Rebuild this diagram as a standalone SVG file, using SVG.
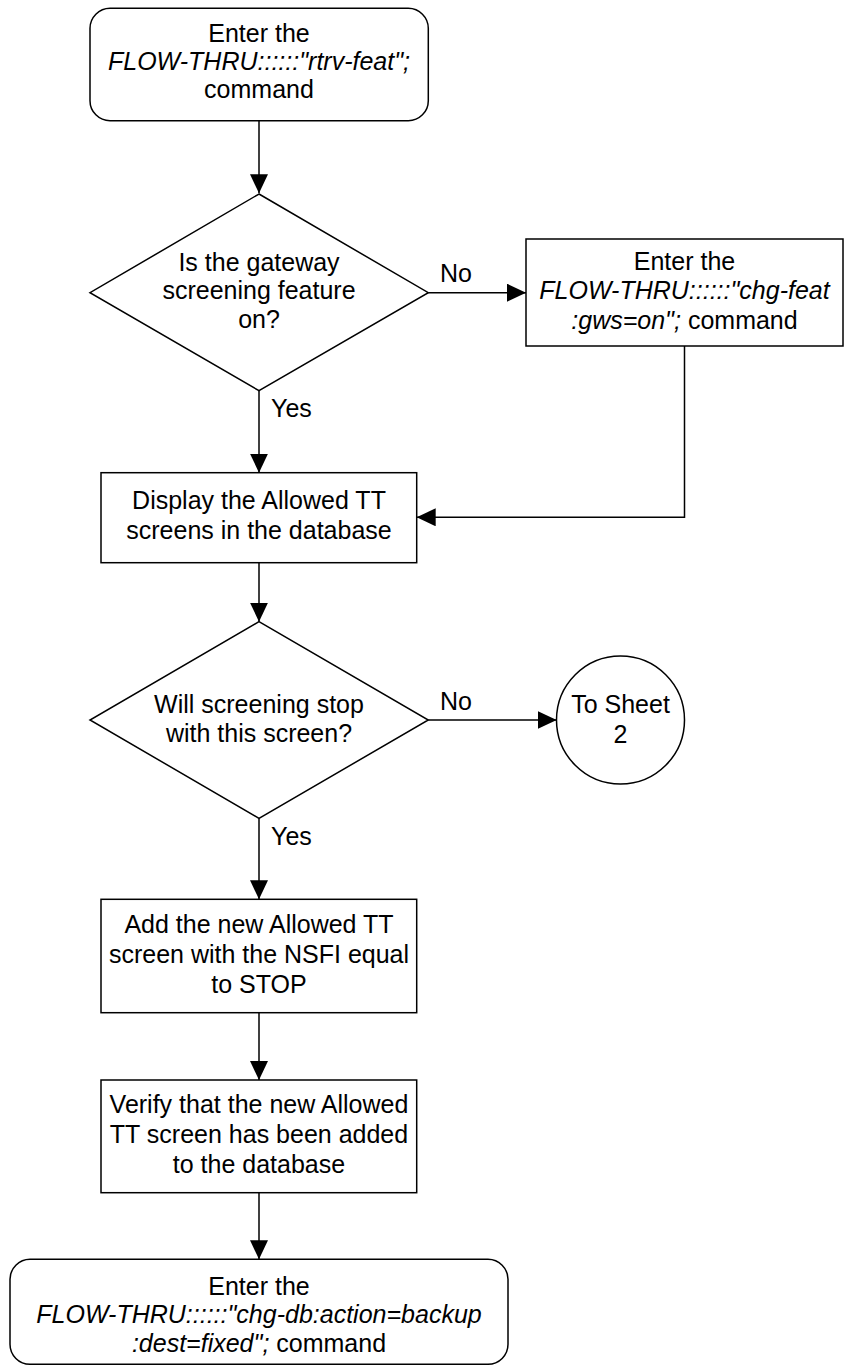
<svg xmlns="http://www.w3.org/2000/svg" width="848" height="1370" viewBox="0 0 848 1370">
<style>
.s{fill:#fff;stroke:#000;stroke-width:1.5}
.c{fill:none;stroke:#000;stroke-width:1.5}
text{font-family:"Liberation Sans",Arial,sans-serif;font-size:25px;fill:#000}
.m{text-anchor:middle}
.i{font-style:italic}
</style>
<defs>
<marker id="ah" markerUnits="userSpaceOnUse" markerWidth="20" markerHeight="20" refX="19" refY="9" orient="auto">
<path d="M0,0 L19,9 L0,18 z" fill="#000"/>
</marker>
</defs>
<rect width="848" height="1370" fill="#fff"/>
<g id="connectors">
<path class="c" d="M259,120.7 V193.3" marker-end="url(#ah)"/>
<path class="c" d="M428.3,292.7 H526" marker-end="url(#ah)"/>
<path class="c" d="M259,390.7 V472.7" marker-end="url(#ah)"/>
<path class="c" d="M684.5,346 V517.3 H416.7" marker-end="url(#ah)"/>
<path class="c" d="M259,562.7 V621.7" marker-end="url(#ah)"/>
<path class="c" d="M428.3,720 H556.7" marker-end="url(#ah)"/>
<path class="c" d="M259,818.3 V899.3" marker-end="url(#ah)"/>
<path class="c" d="M259,1012.7 V1080" marker-end="url(#ah)"/>
<path class="c" d="M259,1192.7 V1259.3" marker-end="url(#ah)"/>
<text x="440" y="282">No</text>
<text x="271" y="417">Yes</text>
<text x="440" y="709.5">No</text>
<text x="271" y="845">Yes</text>
</g>
<g id="start">
<rect class="s" x="90" y="8.3" width="338.3" height="112.4" rx="20"/>
<text class="m" x="259" y="42.3">Enter the</text>
<text class="m i" x="259" y="70">FLOW-THRU::::::"rtrv-feat";</text>
<text class="m" x="259" y="98.3">command</text>
</g>
<g id="dec1">
<polygon class="s" points="259,194 428.3,292.7 259,390.7 90,292.7"/>
<text class="m" x="259" y="270.7">Is the gateway</text>
<text class="m" x="259" y="299.3">screening feature</text>
<text class="m" x="259" y="328">on?</text>
</g>
<g id="chgfeat">
<rect class="s" x="526" y="239" width="317" height="107"/>
<text class="m" x="684.5" y="270">Enter the</text>
<text class="m i" x="684.5" y="299">FLOW-THRU::::::"chg-feat</text>
<text class="m" x="684.5" y="329"><tspan class="i">:gws=on";</tspan> command</text>
</g>
<g id="display">
<rect class="s" x="101" y="472.7" width="315.7" height="90"/>
<text class="m" x="259" y="509.3">Display the Allowed TT</text>
<text class="m" x="259" y="539.3">screens in the database</text>
</g>
<g id="dec2">
<polygon class="s" points="259,621.7 428.3,720 259,818.3 90,720"/>
<text class="m" x="259" y="712.7">Will screening stop</text>
<text class="m" x="259" y="741.7">with this screen?</text>
</g>
<g id="sheet2">
<circle class="s" cx="620.5" cy="720" r="64"/>
<text class="m" x="620.5" y="712.7">To Sheet</text>
<text class="m" x="620.5" y="742.7">2</text>
</g>
<g id="add">
<rect class="s" x="101" y="899.3" width="315.7" height="113.4"/>
<text class="m" x="259" y="933.3">Add the new Allowed TT</text>
<text class="m" x="259" y="963.3">screen with the NSFI equal</text>
<text class="m" x="259" y="993.3">to STOP</text>
</g>
<g id="verify">
<rect class="s" x="101" y="1080" width="315.7" height="112.7"/>
<text class="m" x="259" y="1113">Verify that the new Allowed</text>
<text class="m" x="259" y="1143">TT screen has been added</text>
<text class="m" x="259" y="1173">to the database</text>
</g>
<g id="end">
<rect class="s" x="10" y="1259.3" width="498" height="105" rx="20"/>
<text class="m" x="259" y="1295">Enter the</text>
<text class="m i" x="259" y="1323.3">FLOW-THRU::::::"chg-db:action=backup</text>
<text class="m" x="259" y="1351.7"><tspan class="i">:dest=fixed";</tspan> command</text>
</g>
</svg>
